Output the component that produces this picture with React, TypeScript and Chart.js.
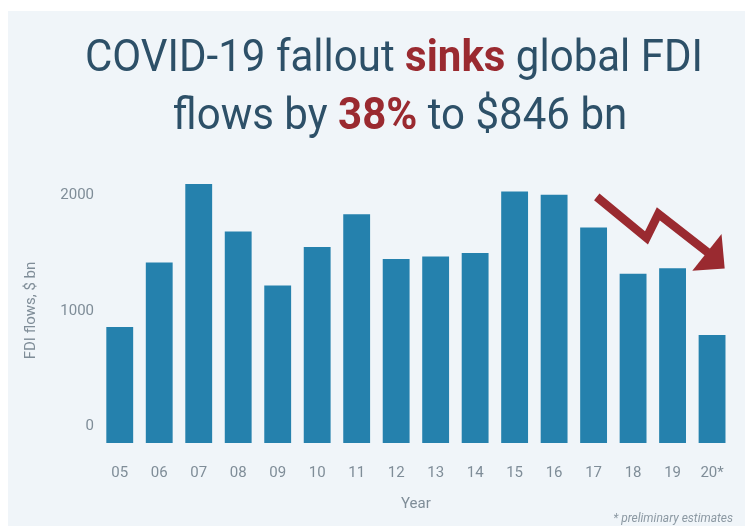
import React, { useEffect, useRef } from "react";
import { Chart, registerables } from "chart.js";

Chart.register(...registerables);

// ---- data ----
const years = ["05", "06", "07", "08", "09", "10", "11", "12", "13", "14", "15", "16", "17", "18", "19", "20*"];
const fdiFlows = [1007, 1566, 2249, 1835, 1366, 1702, 1986, 1598, 1618, 1650, 2182, 2154, 1870, 1468, 1517, 938];
const yTickValues = [0, 1000, 2000];

const titleLine1 = [
  { text: "COVID-19 fallout ", bold: false },
  { text: "sinks", bold: true },
  { text: " global FDI", bold: false },
];
const titleLine2 = [
  { text: "flows by ", bold: false },
  { text: "38%", bold: true },
  { text: " to $846 bn", bold: false },
];
const footnote = "* preliminary estimates";

// decorative trend arrow, in (category index, value) space
const arrowPathIdx = [12.08, 13.34, 13.64, 14.89];
const arrowPathVal = [2136, 1780, 1989, 1654];
const arrowHeadIdx = [15.32, 15.24, 14.5];
const arrowHeadVal = [1515, 1815, 1495];

// ---- styles ----
const PANEL = "#f0f5f9";
const BAR = "#2581ad";
const DARK = "#2d5068";
const RED = "#9a2a30";
const GREY = "#7f8d98";
const FONT = "Roboto, 'Noto Sans', sans-serif";

const backgroundPlugin = {
  id: "panelBg",
  beforeDraw(chart: any) {
    const { ctx, width, height } = chart;
    ctx.save();
    ctx.fillStyle = "#ffffff";
    ctx.fillRect(0, 0, width, height);
    ctx.fillStyle = PANEL;
    ctx.fillRect(8, 11, width - 8, height - 11);
    ctx.restore();
  },
};

function runWidths(ctx: CanvasRenderingContext2D, runs: { text: string; bold: boolean }[], size: number) {
  return runs.map((r) => {
    ctx.font = `${r.bold ? 700 : 400} ${size}px ${FONT}`;
    return ctx.measureText(r.text).width;
  });
}

function drawRuns(
  ctx: CanvasRenderingContext2D,
  runs: { text: string; bold: boolean }[],
  size: number,
  cx: number,
  baseline: number,
  sx: number
) {
  const ws = runWidths(ctx, runs, size);
  const total = ws.reduce((a, b) => a + b, 0);
  ctx.save();
  ctx.translate(cx, baseline);
  ctx.scale(sx, 1);
  ctx.textBaseline = "alphabetic";
  ctx.textAlign = "left";
  let x = -total / 2;
  runs.forEach((r, i) => {
    ctx.font = `${r.bold ? 700 : 400} ${size}px ${FONT}`;
    ctx.fillStyle = r.bold ? RED : DARK;
    ctx.fillText(r.text, x, 0);
    x += ws[i];
  });
  ctx.restore();
}

const textPlugin = {
  id: "texts",
  afterDraw(chart: any) {
    const { ctx } = chart;
    const size = 45;
    const w1 = runWidths(ctx, titleLine1, size).reduce((a, b) => a + b, 0);
    const sx = 618 / w1;
    drawRuns(ctx, titleLine1, size, 394, 71, sx);
    drawRuns(ctx, titleLine2, size, 400, 129, sx);

    ctx.save();
    ctx.font = `italic 400 12px ${FONT}`;
    ctx.fillStyle = "#8c99a3";
    ctx.textAlign = "right";
    ctx.textBaseline = "middle";
    ctx.fillText(footnote, 733, 519);
    ctx.restore();

    // arrow
    const xs = chart.scales.x;
    const ys = chart.scales.y;
    const px = (i: number) => xs.left + ((i + 0.5) / years.length) * (xs.right - xs.left);
    const py = (v: number) => ys.getPixelForValue(v);
    ctx.save();
    ctx.strokeStyle = RED;
    ctx.fillStyle = RED;
    ctx.lineWidth = 8.5;
    ctx.lineJoin = "miter";
    ctx.lineCap = "butt";
    ctx.beginPath();
    arrowPathIdx.forEach((i, k) => {
      const x = px(i);
      const y = py(arrowPathVal[k]);
      if (k === 0) ctx.moveTo(x, y);
      else ctx.lineTo(x, y);
    });
    ctx.stroke();
    ctx.beginPath();
    arrowHeadIdx.forEach((i, k) => {
      const x = px(i);
      const y = py(arrowHeadVal[k]);
      if (k === 0) ctx.moveTo(x, y);
      else ctx.lineTo(x, y);
    });
    ctx.closePath();
    ctx.fill();
    ctx.restore();
  },
};

export default function App() {
  const canvasRef = useRef<HTMLCanvasElement | null>(null);

  useEffect(() => {
    if (!canvasRef.current) return;
    const chart = new Chart(canvasRef.current, {
      type: "bar",
      data: {
        labels: years,
        datasets: [
          {
            data: fdiFlows,
            backgroundColor: BAR,
            borderWidth: 0,
            barPercentage: 0.68,
            categoryPercentage: 1,
          },
        ],
      },
      options: {
        responsive: false,
        animation: false,
        devicePixelRatio: 1,
        layout: { padding: { left: 0, right: 9, top: 178, bottom: 0 } },
        plugins: {
          legend: { display: false },
          title: { display: false },
          tooltip: { enabled: false },
        },
        scales: {
          x: {
            grid: { display: false, drawTicks: false },
            border: { display: false },
            ticks: {
              color: GREY,
              font: { family: FONT, size: 15 },
              padding: 21,
              maxRotation: 0,
              autoSkip: false,
            },
            title: {
              display: true,
              text: "Year",
              color: GREY,
              font: { family: FONT, size: 15 },
              padding: { top: 0, bottom: 13 },
            },
            afterFit(scale: any) {
              scale.height = 83;
            },
          },
          y: {
            min: 0,
            max: 2300,
            grid: { display: false, drawTicks: false },
            border: { display: false },
            afterBuildTicks(scale: any) {
              scale.ticks = yTickValues.map((v) => ({ value: v }));
            },
            ticks: {
              color: GREY,
              font: { family: FONT, size: 15 },
              padding: 6,
              labelOffset: -17,
              callback: (v: any) => String(v),
            },
            title: {
              display: true,
              text: "FDI flows, $ bn",
              color: GREY,
              font: { family: FONT, size: 15 },
              padding: { top: 22, bottom: 0 },
            },
            afterFit(scale: any) {
              scale.width = 100;
            },
          },
        },
      },
      plugins: [backgroundPlugin, textPlugin],
    });
    return () => chart.destroy();
  }, []);

  return (
    <div style={{ position: "fixed", left: 0, top: 0, width: 745, height: 526 }}>
      <canvas ref={canvasRef} width={745} height={526} style={{ display: "block" }} />
    </div>
  );
}
